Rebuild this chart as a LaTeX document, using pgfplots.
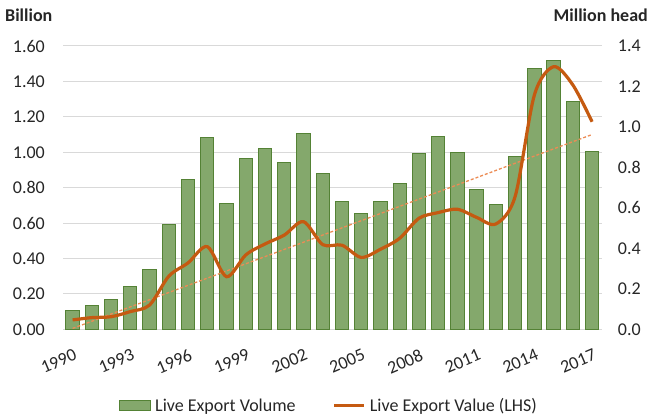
\documentclass[border=0pt]{standalone}
\usepackage{pgfplots}
\pgfplotsset{compat=1.18}
\usepackage{fontspec}
\setmainfont{Carlito}
\definecolor{barfill}{RGB}{132,168,108}
\definecolor{baredge}{RGB}{84,130,53}
\definecolor{valline}{RGB}{197,90,17}
\definecolor{trendc}{RGB}{236,140,85}
\definecolor{gridc}{RGB}{217,217,217}
\definecolor{txt}{RGB}{38,38,38}
\begin{document}
\begin{tikzpicture}
\useasboundingbox (0,0) rectangle (648bp,416bp);
\pgfplotsset{common/.style={at={(63bp,86.7bp)}, anchor=south west, scale only axis,
  width=538.7bp, height=283.3bp, xmin=-0.5, xmax=27.5,
  /pgf/number format/assume math mode=true,
  tick label style={font=\fontsize{18bp}{21bp}\selectfont, text=txt},
  major tick length=0pt, axis line style={draw=none}}}
% bars: volume, right axis
\begin{axis}[common, ymin=0, ymax=1.4, axis y line*=right, hide x axis,
  ytick={0,0.2,0.4,0.6,0.8,1.0,1.2,1.4},
  y tick label style={/pgf/number format/fixed, /pgf/number format/fixed zerofill, /pgf/number format/precision=1, anchor=west, inner sep=0pt, xshift=16bp},
  extra y ticks={0,0.175,0.35,0.525,0.7,0.875,1.05,1.225,1.4},
  extra y tick labels={},
  extra y tick style={grid=major, major grid style={draw=gridc, line width=1bp}}]
\addplot[ybar, bar width=13.3bp, bar shift=0pt, fill=barfill, draw=baredge, line width=1bp] coordinates {
(0,0.095) (1,0.119) (2,0.148) (3,0.211) (4,0.297) (5,0.519) (6,0.741) (7,0.949)
(8,0.623) (9,0.845) (10,0.894) (11,0.822) (12,0.969) (13,0.771) (14,0.634) (15,0.570)
(16,0.634) (17,0.720) (18,0.868) (19,0.954) (20,0.873) (21,0.690) (22,0.616) (23,0.852)
(24,1.290) (25,1.329) (26,1.125) (27,0.880)};
\end{axis}
% line: value, left axis
\begin{axis}[common, ymin=0, ymax=1.6, axis y line*=left, axis x line*=bottom,
  ytick={0,0.2,0.4,0.6,0.8,1.0,1.2,1.4,1.6},
  y tick label style={/pgf/number format/fixed, /pgf/number format/fixed zerofill, /pgf/number format/precision=2, anchor=east, inner sep=0pt, xshift=-18bp},
  xtick={0,3,6,9,12,15,18,21,24,27},
  xticklabels={1990,1993,1996,1999,2002,2005,2008,2011,2014,2017},
  x tick label style={xshift=0.6bp, yshift=-19bp, rotate=23, anchor=north east, inner sep=0pt},
  legend columns=2, legend cell align=left,
  legend style={at={(axis description cs:0.104,-0.269)}, anchor=west, draw=none, fill=none,
    inner sep=0pt, font=\fontsize{18bp}{21bp}\selectfont, text=txt,
    nodes={inner sep=0pt},
    /tikz/every odd column/.style={column sep=4bp},
    /tikz/every even column/.style={column sep=37bp}}]
\addlegendimage{legend image code/.code={\draw[fill=barfill, draw=baredge, line width=1bp] (0bp,-4.7bp) rectangle (31bp,4.7bp);}}
\addlegendentry{Live Export Volume}
\addplot[trendc, line width=1.3bp, dash pattern=on 3bp off 2bp, forget plot] coordinates {(0,0.005) (27,1.10)};
\addplot[valline, line width=3.2bp, smooth, legend image code/.code={\draw[valline, line width=3.2bp] (0bp,0bp) -- (30bp,0bp);}] coordinates {
(0,0.053) (1,0.066) (2,0.071) (3,0.100) (4,0.137) (5,0.300) (6,0.375) (7,0.467)
(8,0.297) (9,0.420) (10,0.482) (11,0.532) (12,0.608) (13,0.478) (14,0.475) (15,0.406)
(16,0.452) (17,0.514) (18,0.627) (19,0.659) (20,0.678) (21,0.632) (22,0.595) (23,0.750)
(24,1.323) (25,1.483) (26,1.380) (27,1.172)};
\addlegendentry{Live Export Value (LHS)}
\end{axis}
\node[anchor=base west, inner sep=0pt, text=txt, font=\fontsize{18bp}{21bp}\selectfont\bfseries] at (5bp,394.3bp) {Billion};
\node[anchor=base east, inner sep=0pt, text=txt, font=\fontsize{18bp}{21bp}\selectfont\bfseries] at (648bp,394.3bp) {Million head};
\end{tikzpicture}
\end{document}
